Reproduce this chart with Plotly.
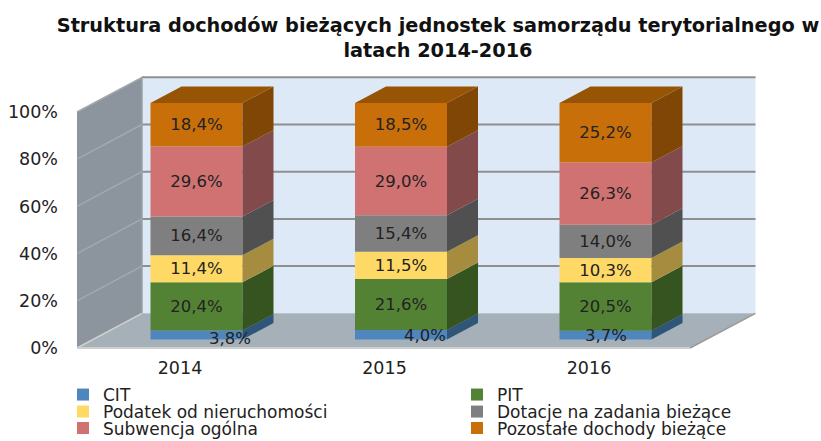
import plotly.graph_objects as go

W, H = 821, 441
years = ["2014", "2015", "2016"]
series_names = ["CIT", "PIT", "Podatek od nieruchomości", "Dotacje na zadania bieżące",
                "Subwencja ogólna", "Pozostałe dochody bieżące"]
cit = [3.8, 4.0, 3.7]
pit = [20.4, 21.6, 20.5]
podatek = [11.4, 11.5, 10.3]
dotacje = [16.4, 15.4, 14.0]
subwencja = [29.6, 29.0, 26.3]
pozostale = [18.4, 18.5, 25.2]
all_series = [cit, pit, podatek, dotacje, subwencja, pozostale]
front_colors = ["#4F86BD", "#548235", "#FFD966", "#7F7F7F", "#D07272", "#C96F0A"]
side_colors = ["#2F5578", "#36541F", "#A68C3F", "#505050", "#824A4A", "#7F4605"]
top_color = "#965404"
tick_vals = [0, 20, 40, 60, 80, 100]
tick_text = ["0%", "20%", "40%", "60%", "80%", "100%"]

# geometry of the pseudo-3D scene (pixels)
BAR_X0, BAR_STEP, BAR_W = 196.5, 204.5, 92
BAR_Y0, BAR_Y100 = 339.5, 103
DEPTH_X, DEPTH_Y = 31, 16.5
WALL_L, WALL_R_FRONT = 77, 690
WALL_Y0, WALL_Y100 = 348, 112
BACK_L, BACK_R = 142, 755.5
BACK_Y0, BACK_Y100 = 313.3, 77.3
LABEL_SHIFT = 16.5
LABEL_FONT = dict(family="DejaVu Sans", size=16.5, color="#222222")
LEGEND_FONT = dict(family="DejaVu Sans", size=17, color="#222222")
LEGEND_X = [63, 457]
LEGEND_ROW_CENTER = [395, 412, 428.5]


def paper_x(p):
    return p / W


def paper_y(p):
    return 1 - p / H


def poly(points, fill, line=None, width=0):
    path = "M " + " L ".join(f"{paper_x(x):.5f},{paper_y(y):.5f}" for x, y in points) + " Z"
    return dict(type="path", path=path, xref="paper", yref="paper", fillcolor=fill,
                line=dict(color=line or fill, width=width), layer="below")


def seg(x0, y0, x1, y1, color="#8F8F8F", width=2):
    return dict(type="line", xref="paper", yref="paper", x0=paper_x(x0), y0=paper_y(y0),
                x1=paper_x(x1), y1=paper_y(y1), line=dict(color=color, width=width), layer="below")


shapes = [
    poly([(BACK_L, BACK_Y100), (BACK_R, BACK_Y100), (BACK_R, BACK_Y0), (BACK_L, BACK_Y0)], "#DEE9F7"),
    poly([(WALL_L, WALL_Y100), (BACK_L, BACK_Y100), (BACK_L, BACK_Y0), (WALL_L, WALL_Y0)], "#8C959D"),
    poly([(WALL_L, WALL_Y0), (BACK_L, BACK_Y0), (BACK_R, BACK_Y0), (WALL_R_FRONT, WALL_Y0)], "#A6B0B8"),
]
for v in tick_vals:
    back_y = BACK_Y0 + (BACK_Y100 - BACK_Y0) * v / 100
    front_y = WALL_Y0 + (WALL_Y100 - WALL_Y0) * v / 100
    shapes.append(seg(WALL_L, front_y, BACK_L, back_y, "#A3A9AE" if v else "#D0D0D0", 1.5))
    if v:
        shapes.append(seg(BACK_L, back_y, BACK_R, back_y))
shapes.append(seg(BACK_R, BACK_Y0, WALL_R_FRONT, WALL_Y0, "#9A9A9A", 1.5))
shapes.append(seg(WALL_L, WALL_Y0, WALL_R_FRONT, WALL_Y0, "#CFCFCF", 2))
shapes.append(seg(BACK_L, BACK_Y0, BACK_L, BACK_Y100, "#9AA0A6", 1.5))

x_pos = list(range(len(years)))
y_scale = (BAR_Y0 - BAR_Y100) / 100
dx = DEPTH_X / BAR_STEP
dy = DEPTH_Y / y_scale
half = BAR_W / BAR_STEP / 2
legend_ids = ["legend", "legend2", "legend3", "legend4", "legend5", "legend6"]

fig = go.Figure()

cum = [0.0] * len(years)
side_traces = []
for name, vals, fc, sc, leg in zip(series_names, all_series, front_colors, side_colors, legend_ids):
    is_cit = vals is cit
    fig.add_trace(go.Bar(
        x=x_pos, y=vals, base=cum, name=name, width=BAR_W / BAR_STEP, legend=leg,
        marker=dict(color=fc, line=dict(width=0)),
        text=None if is_cit else [f"{v:.1f}%".replace(".", ",") for v in vals],
        textposition="inside", insidetextanchor="middle", textangle=0,
        constraintext="none", cliponaxis=False,
        textfont=LABEL_FONT,
        xaxis="x", yaxis="y",
    ))
    xs, ys = [], []
    for i, v in zip(x_pos, vals):
        b, t = cum[i], cum[i] + v
        r = i + half
        xs += [r, r + dx, r + dx, r, r, None]
        ys += [b, b + dy, t + dy, t, b, None]
    side_traces.append(go.Scatter(x=xs, y=ys, mode="lines", fill="toself", fillcolor=sc,
                                  line=dict(width=0, color=sc), hoverinfo="skip", showlegend=False,
                                  xaxis="x", yaxis="y"))
    cum = [c + v for c, v in zip(cum, vals)]

for t in side_traces:
    fig.add_trace(t)

xs, ys = [], []
for i, t in zip(x_pos, cum):
    xs += [i - half, i + half, i + half + dx, i - half + dx, i - half, None]
    ys += [t, t, t + dy, t + dy, t, None]
fig.add_trace(go.Scatter(x=xs, y=ys, mode="lines", fill="toself", fillcolor=top_color,
                         line=dict(width=0, color=top_color), hoverinfo="skip", showlegend=False,
                         xaxis="x", yaxis="y"))

# invisible carrier for the tick-label axes
fig.add_trace(go.Scatter(x=x_pos, y=tick_vals[:3], mode="markers", marker=dict(opacity=0),
                         hoverinfo="skip", showlegend=False, xaxis="x2", yaxis="y2"))

cit_shift_x = [33, 24, 0]
cit_shift_y = [-3, -1, 0]
annotations = [
    dict(x=i, y=v / 2, xref="x", yref="y", text=f"{v:.1f}%".replace(".", ","), showarrow=False,
         xshift=sx, yshift=sy, font=LABEL_FONT)
    for i, v, sx, sy in zip(x_pos, cit, cit_shift_x, cit_shift_y)
]

x_range = [-BAR_X0 / BAR_STEP, (W - BAR_X0) / BAR_STEP]
x2_range = [-(BAR_X0 - LABEL_SHIFT) / BAR_STEP, (W - BAR_X0 + LABEL_SHIFT) / BAR_STEP]
y_range = [-(H - BAR_Y0) / y_scale, BAR_Y0 / y_scale]

layout_legends = {}
for idx, leg in enumerate(legend_ids):
    col, row = idx % 2, idx // 2
    layout_legends[leg] = dict(
        x=LEGEND_X[col] / W, xanchor="left",
        y=1 - LEGEND_ROW_CENTER[row] / H, yanchor="middle",
        font=LEGEND_FONT, bgcolor="rgba(0,0,0,0)", borderwidth=0,
        itemclick=False, itemdoubleclick=False,
    )

fig.update_layout(
    width=W, height=H, autosize=False, barmode="overlay",
    margin=dict(l=0, r=0, t=0, b=0, autoexpand=False),
    paper_bgcolor="white", plot_bgcolor="rgba(0,0,0,0)",
    shapes=shapes, annotations=annotations,
    title=dict(text="Struktura dochodów bieżących jednostek samorządu terytorialnego w<br>latach 2014-2016",
               font=dict(family="DejaVu Sans", size=19.3, color="#111111", weight="bold"),
               x=438 / W, xanchor="center", y=1 - 32 / H, yanchor="top"),
    xaxis=dict(domain=[0, 1], range=x_range, visible=False, fixedrange=True),
    yaxis=dict(domain=[0, 1], range=y_range, visible=False, fixedrange=True),
    xaxis2=dict(domain=[0, 1], range=x2_range, anchor="free",
                position=1 - 355 / H, tickvals=x_pos, ticktext=years, showgrid=False,
                zeroline=False, showline=False, ticks="", fixedrange=True,
                tickfont=dict(family="DejaVu Sans", size=17.5, color="#222222")),
    yaxis2=dict(domain=[1 - WALL_Y0 / H, 1 - WALL_Y100 / H], range=[0, 100],
                anchor="free", position=58 / W, tickvals=tick_vals, ticktext=tick_text,
                showgrid=False, zeroline=False, showline=False, ticks="", fixedrange=True,
                tickfont=dict(family="DejaVu Sans", size=17.5, color="#222222")),
    **layout_legends,
)
fig.write_html("out.html", config={"displayModeBar": False},
               post_script="document.body.style.margin='0';document.body.style.overflow='hidden';")
